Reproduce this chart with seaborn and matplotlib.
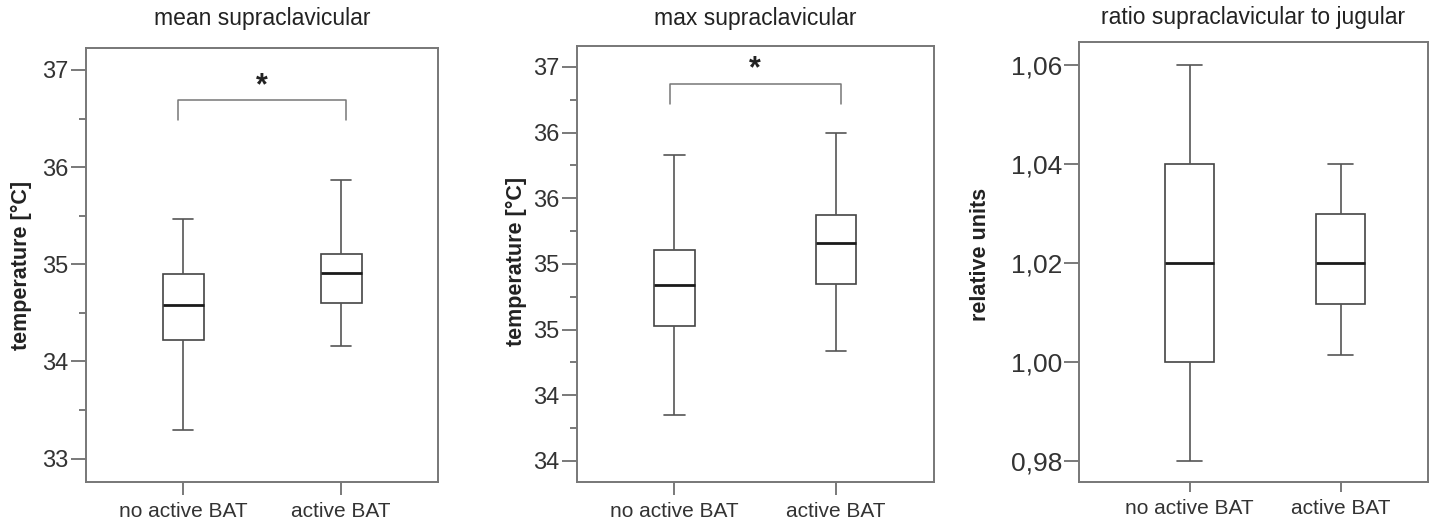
import numpy as np
import pandas as pd
import matplotlib
matplotlib.use("Agg")
import matplotlib.pyplot as plt
import seaborn as sns
from matplotlib.ticker import FixedLocator

# ---------------- data (five-number summaries) -------------
categories = ["no active BAT", "active BAT"]

mean_no_active = [33.29, 34.22, 34.58, 34.90, 35.47]
mean_active = [34.16, 34.60, 34.91, 35.11, 35.87]

max_no_active = [34.35, 35.03, 35.34, 35.61, 36.33]
max_active = [34.84, 35.35, 35.66, 35.87, 36.50]

ratio_no_active = [0.98, 1.00, 1.02, 1.04, 1.06]
ratio_active = [1.0014, 1.0117, 1.02, 1.03, 1.04]

titles = ["mean supraclavicular", "max supraclavicular", "ratio supraclavicular to jugular"]
ylabels = ["temperature [°C]", "temperature [°C]", "relative units"]

mean_ticks = [33, 34, 35, 36, 37]
mean_tick_labels = ["33", "34", "35", "36", "37"]
mean_minor = [33.5, 34.5, 35.5, 36.5]

max_ticks = [34.0, 34.5, 35.0, 35.5, 36.0, 36.5, 37.0]
max_tick_labels = ["34", "34", "35", "35", "36", "36", "37"]
max_minor = [34.25, 34.75, 35.25, 35.75, 36.25, 36.75]

ratio_ticks = [0.98, 1.00, 1.02, 1.04, 1.06]
ratio_tick_labels = ["0,98", "1,00", "1,02", "1,04", "1,06"]

# significance brackets (bracket top, bracket leg end, star position)
mean_bracket = [36.69, 36.48, 36.83]
max_bracket = [36.87, 36.72, 36.98]

# ---------------- style -------------
sns.set_style("white")
plt.rcParams["font.family"] = ["Liberation Sans", "DejaVu Sans"]

fig = plt.figure(figsize=(14.32, 5.21), dpi=100)

axes_rects = [
    [0.0601, 0.0749, 0.2458, 0.8330],
    [0.4027, 0.0749, 0.2495, 0.8374],
    [0.7537, 0.0743, 0.2433, 0.8445],
]

datasets = [
    (mean_no_active, mean_active),
    (max_no_active, max_active),
    (ratio_no_active, ratio_active),
]
box_widths = [0.26, 0.25, 0.325]
xlims = [(-0.614, 1.614), (-0.604, 1.604), (-0.732, 1.578)]
ylims = [(32.76, 37.226), (33.84, 37.162), (0.9757, 1.0646)]
yticks = [mean_ticks, max_ticks, ratio_ticks]
ytick_labels = [mean_tick_labels, max_tick_labels, ratio_tick_labels]
minors = [mean_minor, max_minor, None]
brackets = [mean_bracket, max_bracket, None]
title_pads = [16.5, 15, 13]
ytick_sizes = [17, 17, 19]
ylabel_coords = [(-0.154, 0.500), (-0.138, 0.505), (-0.253, 0.519)]
xtick_len = [9.4, 9.4, 7.5]

spine_color = "#777777"
tick_color = "#555555"
text_color = "#222222"

for i in range(3):
    ax = fig.add_axes(axes_rects[i])
    no_vals, act_vals = datasets[i]
    df = pd.DataFrame({
        "group": [categories[0]] * len(no_vals) + [categories[1]] * len(act_vals),
        "value": list(no_vals) + list(act_vals),
    })
    sns.boxplot(
        data=df, x="group", y="value", order=categories,
        width=box_widths[i], whis=(0, 100), color="white",
        linecolor="#444444", linewidth=1.2, showfliers=False,
        boxprops=dict(facecolor="white", edgecolor="#444444", linewidth=1.2),
        medianprops=dict(color="#1a1a1a", linewidth=2.0),
        whiskerprops=dict(color="#555555", linewidth=1.2),
        capprops=dict(color="#555555", linewidth=1.2),
        ax=ax,
    )
    ax.set_xlim(*xlims[i])
    ax.set_ylim(*ylims[i])
    ax.set_xlabel("")
    ax.set_ylabel(ylabels[i], fontsize=15.5, fontweight="bold", color=text_color)
    ax.yaxis.set_label_coords(*ylabel_coords[i])
    ax.set_title(titles[i], fontsize=16.5, color=text_color, pad=title_pads[i])

    ax.yaxis.set_major_locator(FixedLocator(yticks[i]))
    ax.set_yticklabels(ytick_labels[i])
    if minors[i] is not None:
        ax.yaxis.set_minor_locator(FixedLocator(minors[i]))
    ax.tick_params(axis="y", which="major", left=True, length=11, width=1.1,
                   color=tick_color, labelsize=ytick_sizes[i], labelcolor="#333333", pad=1.5)
    ax.tick_params(axis="y", which="minor", left=True, length=5, width=1.1, color=tick_color)
    ax.tick_params(axis="x", which="major", bottom=True, length=xtick_len[i], width=1.1,
                   color=tick_color, labelsize=15, labelcolor="#333333", pad=4.8)

    for sp in ax.spines.values():
        sp.set_visible(True)
        sp.set_color(spine_color)
        sp.set_linewidth(1.4)

    if brackets[i] is not None:
        top, leg, star = brackets[i]
        x0, x1 = 0 - 0.03, 1 + 0.03
        ax.plot([x0, x0, x1, x1], [leg, top, top, leg], color="#777777", lw=1.1)
        ax.text(0.5, star, "*", ha="center", va="center", fontsize=22,
                fontweight="bold", color=text_color)

fig.savefig("out.png", dpi=100)
